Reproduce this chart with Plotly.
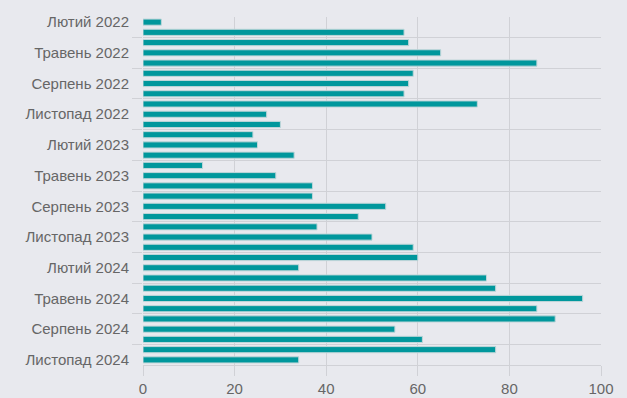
import plotly.graph_objects as go

month_names = ["Січень", "Лютий", "Березень", "Квітень", "Травень", "Червень",
               "Липень", "Серпень", "Вересень", "Жовтень", "Листопад", "Грудень"]

# (year, month index) from Feb 2022 to Nov 2024
periods = [(2022, m) for m in range(1, 12)] + [(2023, m) for m in range(12)] + [(2024, m) for m in range(11)]
categories = [f"{month_names[m]} {y}" for y, m in periods]

values = [4, 57, 58, 65, 86, 59, 58, 57, 73, 27, 30,
          24, 25, 33, 13, 29, 37, 37, 53, 47, 38, 50, 59,
          60, 34, 75, 77, 96, 86, 90, 55, 61, 77, 34]

x_ticks = [0, 20, 40, 60, 80, 100]

positions = list(range(len(categories)))
label_positions = positions[::3]
tick_labels = [categories[i] for i in label_positions]
boundaries = [p + 1.5 for p in label_positions[:-1]]

bg = "#E8E9EE"
grid = "#D0D1D6"
font_color = "#666666"

fig = go.Figure(go.Bar(
    x=values, y=positions, orientation="h", width=0.6,
    marker=dict(color="#00979C", line=dict(color="#BFD6D9", width=1)),
    hovertext=categories,
))

fig.update_layout(
    width=627, height=398,
    margin=dict(l=143, r=26, t=17, b=33),
    paper_bgcolor=bg, plot_bgcolor=bg,
    font=dict(family="Liberation Sans, Arial, sans-serif", size=15, color=font_color),
    showlegend=False,
    bargap=0.4,
)

fig.update_xaxes(
    range=[0, 100], tickvals=x_ticks, showgrid=True, gridcolor=grid, gridwidth=1,
    zeroline=False, ticks="outside", ticklen=10, tickcolor=grid,
    showline=True, linecolor=grid, linewidth=1, mirror=False, automargin=False,
    tickfont=dict(size=15, color=font_color),
)

fig.update_yaxes(
    range=[len(categories) - 0.5, -0.5],
    tickvals=label_positions, ticktext=tick_labels,
    showgrid=False, zeroline=False, automargin=False,
    ticks="outside", ticklen=10, tickcolor="rgba(0,0,0,0)",
    tickfont=dict(size=15, color=font_color),
    minor=dict(tickvals=boundaries, showgrid=True, gridcolor=grid, gridwidth=1,
               ticks="outside", ticklen=10, tickcolor=grid),
)

fig.write_html(
    "out.html",
    config={"displayModeBar": False},
    post_script="document.body.style.margin='0';document.body.style.background='%s';" % bg,
)
